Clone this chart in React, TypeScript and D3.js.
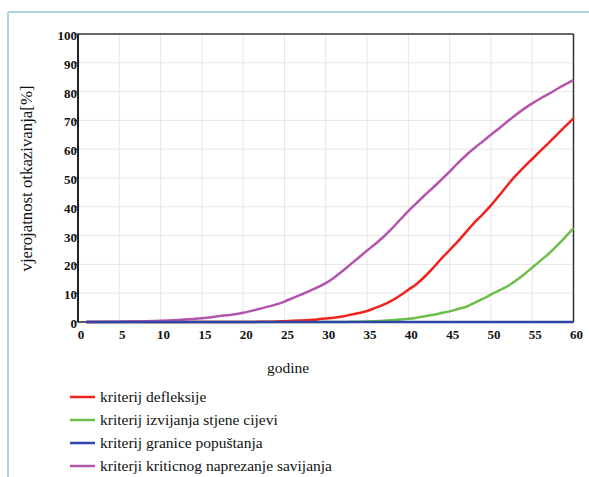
import React from "react";
import * as d3 from "d3";

const years = [1, 5, 10, 12, 15, 17, 19, 20, 22, 24, 25, 26, 27, 28, 29, 30, 31, 32, 33, 34, 35, 36, 37, 38, 39, 40, 41, 42, 43, 44, 45, 46, 47, 48, 49, 50, 51, 52, 53, 54, 55, 56, 57, 58, 59, 60];

const defleksije = [0, 0, 0, 0, 0, 0, 0, 0, 0.05, 0.15, 0.3, 0.4, 0.55, 0.7, 0.9, 1.2, 1.5, 1.9, 2.5, 3.1, 3.8, 4.9, 6.0, 7.4, 9.2, 11.2, 13.2, 15.8, 18.8, 22.0, 25.0, 28.0, 31.3, 34.5, 37.4, 40.5, 43.9, 47.5, 50.8, 53.8, 56.6, 59.4, 62.2, 65.1, 67.9, 70.7];

const izvijanja = [0, 0, 0, 0, 0, 0, 0, 0, 0, 0, 0, 0, 0, 0, 0, 0, 0, 0, 0.05, 0.1, 0.2, 0.3, 0.45, 0.65, 0.85, 1.1, 1.5, 2.0, 2.5, 3.1, 3.7, 4.5, 5.3, 6.6, 8.0, 9.5, 11.0, 12.4, 14.3, 16.5, 18.9, 21.3, 23.7, 26.5, 29.5, 32.6];

const granice = years.map(() => 0);

const kriticnog = [0, 0.1, 0.4, 0.7, 1.3, 2.0, 2.7, 3.2, 4.6, 6.1, 7.1, 8.3, 9.5, 10.7, 12.0, 13.5, 15.4, 17.6, 20.0, 22.4, 24.8, 27.1, 29.6, 32.4, 35.5, 38.5, 41.3, 44.1, 46.7, 49.4, 52.2, 55.2, 57.9, 60.4, 62.7, 65.0, 67.3, 69.6, 71.9, 74.0, 75.9, 77.6, 79.2, 80.9, 82.5, 84.0];

const xTicks = [0, 5, 10, 15, 20, 25, 30, 35, 40, 45, 50, 55, 60];
const yTicks = [0, 10, 20, 30, 40, 50, 60, 70, 80, 90, 100];

const seriesNames = ["kriterij defleksije", "kriterij izvijanja stjene cijevi", "kriterij granice popuštanja", "kriterji kriticnog naprezanje savijanja"];
const seriesValues = [defleksije, izvijanja, granice, kriticnog];
const seriesColors = ["#f0231e", "#6cbf4a", "#2e46a8", "#b455ad"];
const drawOrder = [1, 0, 3, 2];

export default function App() {
  const W = 589, H = 477;
  const x = d3.scaleLinear().domain([0, 60]).range([78, 573.5]);
  const y = d3.scaleLinear().domain([0, 100]).range([322, 34]);
  const tickStyle = { fontFamily: "Liberation Serif", fontSize: 13, fontWeight: 700, fill: "#111" };
  const legendStyle = { fontFamily: "Liberation Serif", fontSize: 15.5, fill: "#111" };
  const xTitleStyle = { fontFamily: "Liberation Serif", fontSize: 15.5, fill: "#111" };
  const yTitleStyle = { fontFamily: "Liberation Serif", fontSize: 16.8, fill: "#111" };

  const line = (vals: number[]) =>
    d3.line<number>().x((_, i) => x(years[i])).y((v) => y(v)).curve(d3.curveMonotoneX)(vals) || "";

  return (
    <svg width={W} height={H} style={{ position: "absolute", left: 0, top: 0, background: "#fff", fontFamily: "Liberation Serif" }}>
      <line x1={8} y1={12} x2={W} y2={12} stroke="#a9d6dc" strokeWidth={2} />
      <line x1={8} y1={12} x2={8} y2={H} stroke="#a9d6dc" strokeWidth={2} />

      {xTicks.slice(1, -1).map((t) => (
        <line key={"gx" + t} x1={x(t)} x2={x(t)} y1={y(100)} y2={y(0)} stroke="#e6e6e6" strokeWidth={1} />
      ))}
      {yTicks.slice(1, -1).map((t) => (
        <line key={"gy" + t} x1={x(0)} x2={x(60)} y1={y(t)} y2={y(t)} stroke="#e6e6e6" strokeWidth={1} />
      ))}

      <line x1={x(0)} x2={x(60)} y1={y(100)} y2={y(100)} stroke="#333" strokeWidth={1.5} />
      <line x1={x(60)} x2={x(60)} y1={y(100)} y2={y(0)} stroke="#333" strokeWidth={1.5} />
      <line x1={x(0)} x2={x(60)} y1={y(0)} y2={y(0)} stroke="#222" strokeWidth={1.5} />
      <line x1={x(0)} x2={x(0)} y1={y(100)} y2={y(0)} stroke="#222" strokeWidth={2} />

      {yTicks.map((t) => (
        <g key={"yt" + t}>
          <line x1={x(0) - 4} x2={x(0)} y1={y(t)} y2={y(t)} stroke="#222" strokeWidth={1} />
          <text x={x(0) - 1} y={y(t) + 6} textAnchor="end" style={tickStyle}>{t}</text>
        </g>
      ))}
      {xTicks.map((t) => (
        <text key={"xt" + t} x={x(t) + 3} y={y(0) + 17} textAnchor="middle" style={tickStyle}>{t}</text>
      ))}

      {drawOrder.map((i) => (
        <path key={"s" + i} d={line(seriesValues[i])} fill="none" stroke={seriesColors[i]} strokeWidth={2.5} strokeLinejoin="round" />
      ))}

      <text x={288} y={373} textAnchor="middle" style={xTitleStyle}>godine</text>
      <text transform={`translate(32,${y(50) + 0.5}) rotate(-90)`} textAnchor="middle" style={yTitleStyle}>vjerojatnost otkazivanja[%]</text>

      {seriesNames.map((n, i) => (
        <g key={"lg" + i} transform={`translate(70,${397 + i * 23})`}>
          <line x1={0} x2={25} y1={0} y2={0} stroke={seriesColors[i]} strokeWidth={2.5} />
          <text x={30} y={5} style={legendStyle}>{n}</text>
        </g>
      ))}
    </svg>
  );
}
